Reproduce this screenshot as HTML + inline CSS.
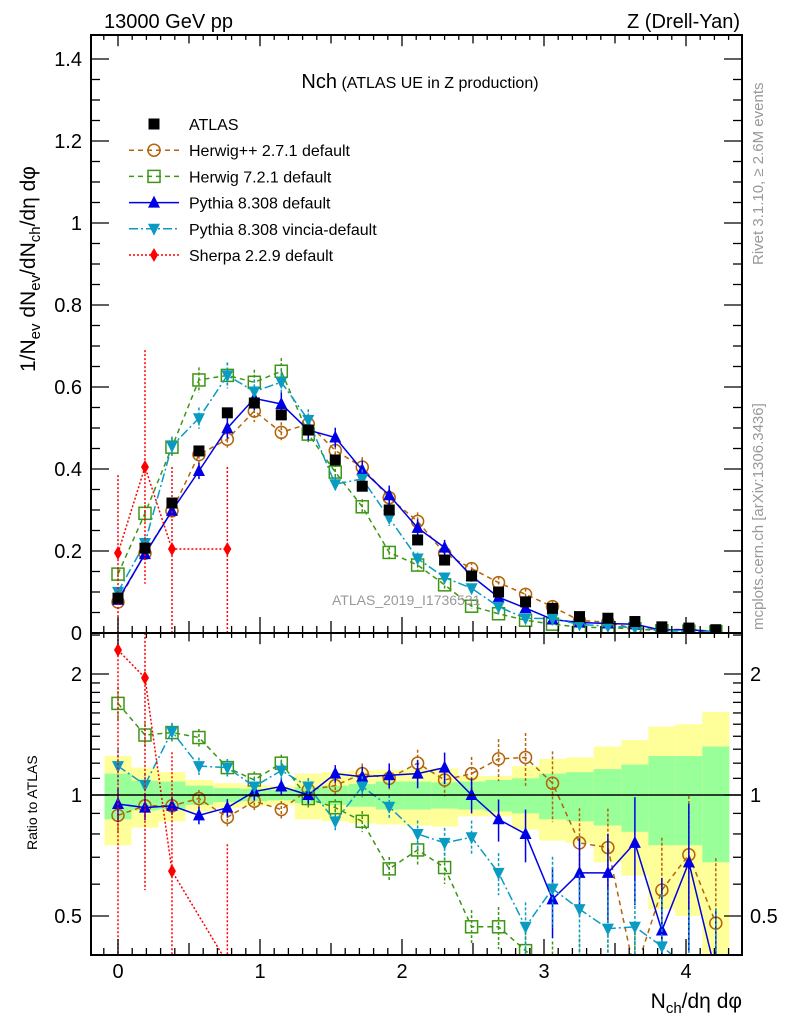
<!DOCTYPE html>
<html><head><meta charset="utf-8"><style>
html,body{margin:0;padding:0;background:#fff;width:786px;height:1024px;overflow:hidden;}
svg{display:block;font-family:"Liberation Sans",sans-serif;}
</style></head><body>
<svg id="chart" width="786" height="1024" viewBox="0 0 786 1024">
<defs>
<clipPath id="cm"><rect x="91" y="35" width="651" height="598"/></clipPath>
<clipPath id="cr"><rect x="91" y="633" width="651" height="322"/></clipPath>
</defs>
<g id="bands" clip-path="url(#cr)"></g>
<g id="series-main" clip-path="url(#cm)"></g>
<g id="series-ratio" clip-path="url(#cr)"></g>
<rect x="91" y="35" width="651" height="598" fill="none" stroke="#000" stroke-width="2"/>
<rect x="91" y="633" width="651" height="322" fill="none" stroke="#000" stroke-width="2"/>
<line x1="91" y1="795" x2="742" y2="795" stroke="#000" stroke-width="1.5"/>
<g id="ticks"></g>
<text x="104" y="28" font-size="20">13000 GeV pp</text>
<text x="740" y="28" font-size="20" text-anchor="end">Z (Drell-Yan)</text>
<text x="420" y="88" text-anchor="middle"><tspan font-size="20">Nch</tspan><tspan font-size="16"> (ATLAS UE in Z production)</tspan></text>
<text x="332" y="605" font-size="14" fill="#999">ATLAS_2019_I1736531</text>
<text transform="translate(763,265) rotate(-90)" font-size="15" fill="#999">Rivet 3.1.10, ≥ 2.6M events</text>
<text transform="translate(763,630) rotate(-90)" font-size="15" fill="#999">mcplots.cern.ch [arXiv:1306.3436]</text>
<text transform="translate(35,372) rotate(-90)" font-size="21">1/N<tspan font-size="15" dy="5">ev</tspan><tspan dy="-5"> dN</tspan><tspan font-size="15" dy="5">ev</tspan><tspan dy="-5">/dN</tspan><tspan font-size="15" dy="5">ch</tspan><tspan dy="-5">/dη dφ</tspan></text>
<text transform="translate(37,850) rotate(-90)" font-size="14">Ratio to ATLAS</text>
<text x="742" y="1008" font-size="21" text-anchor="end">N<tspan font-size="15" dy="5">ch</tspan><tspan dy="-5">/dη dφ</tspan></text>
<g id="legend"></g>
</svg>
<script>
const xVals=[0,0.19,0.38,0.57,0.77,0.96,1.15,1.34,1.53,1.72,1.91,2.11,2.30,2.49,2.68,2.87,3.06,3.25,3.45,3.64,3.83,4.02,4.21];
const atlas=[0.085,0.207,0.317,0.444,0.537,0.561,0.532,0.495,0.422,0.358,0.300,0.227,0.178,0.139,0.100,0.076,0.060,0.040,0.036,0.028,0.015,0.012,0.008];
const bandYellow=[.25,.17,.14,.09,.07,.06,.055,.13,.14,.15,.155,.16,.165,.115,.115,.18,.23,.24,.32,.37,.48,.50,.61];
const bandGreen=[.13,.085,.08,.055,.04,.035,.03,.045,.055,.065,.08,.08,.075,.08,.09,.10,.13,.14,.16,.19,.25,.25,.32];
const ratioHerwigpp=[0.89,0.94,0.94,0.98,0.88,0.965,0.92,1.03,1.055,1.13,1.10,1.2,1.09,1.13,1.23,1.24,1.07,0.76,0.74,0.36,0.58,0.71,0.48];
const ratioHerwig7=[1.69,1.41,1.43,1.39,1.17,1.09,1.2,0.98,0.93,0.86,0.655,0.73,0.66,0.47,0.47,0.41,0.36,0.36,0.36,0.36,0.36,0.36,0.36];
const ratioPythia=[0.95,0.93,0.94,0.89,0.93,1.02,1.05,1.0,1.13,1.11,1.12,1.13,1.17,1.0,0.87,0.80,0.55,0.64,0.64,0.76,0.46,0.68,0.36];
const ratioVincia=[1.18,1.06,1.44,1.18,1.17,1.05,1.15,1.05,0.86,1.05,0.935,0.80,0.76,0.785,0.64,0.47,0.585,0.52,0.465,0.47,0.42,0.37,0.36];
const sherpaX=[0,0.19,0.38,0.77];
const sherpaVal=[0.195,0.405,0.205,0.205];
const sherpaErrLo=[0.195,0.285,0.205,0.205];
const sherpaErrHi=[0.19,0.285,0.2,0.2];
const relErr=[0.1,0.07,0.05,0.05,0.05,0.05,0.05,0.05,0.05,0.06,0.07,0.08,0.09,0.1,0.12,0.15,0.2,0.22,0.25,0.3,0.35,0.4,0.45];
const yTicksMain=[0,0.2,0.4,0.6,0.8,1,1.2,1.4];
const yTickLabelsMain=["0","0.2","0.4","0.6","0.8","1","1.2","1.4"];
const xTicks=[0,1,2,3,4];
const ratioTicks=[0.5,1,2];

const NS="http://www.w3.org/2000/svg";
const sx=x=>118+142*x;
const sy=v=>633-410*v;
const RMIN=0.35;
const ry=r=>795-121*Math.log2(Math.max(r,RMIN));
function mk(tag,attrs,parent){const e=document.createElementNS(NS,tag);for(const k in attrs)e.setAttribute(k,attrs[k]);parent.appendChild(e);return e;}
const gB=document.getElementById('bands'),gT=document.getElementById('ticks'),gM=document.getElementById('series-main'),gR=document.getElementById('series-ratio'),gL=document.getElementById('legend');

for(let i=0;i<xVals.length;i++){
  const x0=i===0?xVals[0]-(xVals[1]-xVals[0])/2:(xVals[i-1]+xVals[i])/2;
  const x1=i===xVals.length-1?xVals[i]+(xVals[i]-xVals[i-1])/2:(xVals[i]+xVals[i+1])/2;
  const yb=mk('rect',{x:sx(x0),y:ry(1+bandYellow[i]),width:sx(x1)-sx(x0),height:ry(1-bandYellow[i])-ry(1+bandYellow[i]),fill:'#ffff9a'},gB);
  
  
  const gb=mk('rect',{x:sx(x0),y:ry(1+bandGreen[i]),width:sx(x1)-sx(x0),height:ry(1-bandGreen[i])-ry(1+bandGreen[i]),fill:'#99ff99'},gB);
  
  
}

for(let t=0;t<=1.45;t+=0.05){const y=sy(t);const maj=Math.abs(t/0.2-Math.round(t/0.2))<1e-6;const L=maj?18:9;
  mk('line',{x1:91,y1:y,x2:91+L,y2:y,stroke:'#000','stroke-width':1.3},gT);mk('line',{x1:742,y1:y,x2:742-L,y2:y,stroke:'#000','stroke-width':1.3},gT);}
yTicksMain.forEach((t,i)=>{const e=mk('text',{x:82,y:sy(t)+7,'font-size':20,'text-anchor':'end'},gT);e.textContent=yTickLabelsMain[i];
  
  });
for(let t=-0.1;t<=4.35;t+=0.1){const x=sx(t);const k=Math.round(t*10);const L=k%10===0?16:(k%5===0?12:7);
  mk('line',{x1:x,y1:633,x2:x,y2:633-L,stroke:'#000','stroke-width':1.3},gT);mk('line',{x1:x,y1:955,x2:x,y2:955-L,stroke:'#000','stroke-width':1.3},gT);
  mk('line',{x1:x,y1:35,x2:x,y2:35+L*0.7,stroke:'#000','stroke-width':1.3},gT);mk('line',{x1:x,y1:633,x2:x,y2:633+L*0.7,stroke:'#000','stroke-width':1.3},gT);}
xTicks.forEach(t=>{const e=mk('text',{x:sx(t),y:978,'font-size':20,'text-anchor':'middle'},gT);e.textContent=String(t);
  
  });
[0.4,0.5,0.6,0.7,0.8,0.9,1,1.1,1.2,1.3,1.4,1.5,1.6,1.7,1.8,1.9,2,2.5].forEach(r=>{const y=ry(r);const maj=ratioTicks.includes(r);const L=maj?18:9;
  if(y<633||y>955)return;mk('line',{x1:91,y1:y,x2:91+L,y2:y,stroke:'#000','stroke-width':1.3},gT);mk('line',{x1:742,y1:y,x2:742-L,y2:y,stroke:'#000','stroke-width':1.3},gT);});
ratioTicks.forEach(r=>{const a=mk('text',{x:82,y:ry(r)+7,'font-size':20,'text-anchor':'end'},gT);a.textContent=String(r);
  
  
  const b=mk('text',{x:750,y:ry(r)+7,'font-size':20},gT);b.textContent=String(r);
  
  });

function marker(type,x,y,color,parent){
  if(type==='sq')return mk('rect',{x:x-5.5,y:y-5.5,width:11,height:11,fill:'#000'},parent);
  if(type==='circ')return mk('circle',{cx:x,cy:y,r:6,fill:'none',stroke:color,'stroke-width':1.5},parent);
  if(type==='osq')return mk('rect',{x:x-6,y:y-6,width:12,height:12,fill:'none',stroke:color,'stroke-width':1.5},parent);
  if(type==='up')return mk('polygon',{points:`${x},${y-7} ${x-6},${y+5} ${x+6},${y+5}`,fill:color},parent);
  if(type==='down')return mk('polygon',{points:`${x},${y+7} ${x-6},${y-5} ${x+6},${y-5}`,fill:color},parent);
  if(type==='dia')return mk('polygon',{points:`${x},${y-7} ${x-4},${y} ${x},${y+7} ${x+4},${y}`,fill:color},parent);
}
const mcs=[
 {name:'herwigpp',ratio:ratioHerwigpp,color:'#b4640a',dash:'5,4',m:'circ'},
 {name:'herwig7',ratio:ratioHerwig7,color:'#3c9614',dash:'5,4',m:'osq'},
 {name:'pythia',ratio:ratioPythia,color:'#0000e6',dash:'',m:'up'},
 {name:'vincia',ratio:ratioVincia,color:'#0a9bc3',dash:'9,3,2,3',m:'down'}
];
mcs.forEach(s=>{
  const vals=s.ratio.map((r,i)=>r*atlas[i]);
  const pm=mk('polyline',{points:vals.map((v,i)=>sx(xVals[i])+','+sy(v)).join(' '),fill:'none',stroke:s.color,'stroke-width':1.5,'stroke-dasharray':s.dash},gM);
  
  
  const pr=mk('polyline',{points:s.ratio.map((r,i)=>sx(xVals[i])+','+ry(r)).join(' '),fill:'none',stroke:s.color,'stroke-width':1.5,'stroke-dasharray':s.dash},gR);
  
  
  vals.forEach((v,i)=>{const x=sx(xVals[i]);const e=v*relErr[i];
    mk('line',{x1:x,y1:sy(v+e),x2:x,y2:sy(v-e),stroke:s.color,'stroke-width':1.5,'stroke-dasharray':s.dash?'3,2':''},gM);
    const p=marker(s.m,x,sy(v),s.color,gM);
    
    
    const r=s.ratio[i],er=r*relErr[i];
    mk('line',{x1:x,y1:ry(r+er),x2:x,y2:ry(r-er),stroke:s.color,'stroke-width':1.5,'stroke-dasharray':s.dash?'3,2':''},gR);
    const q=marker(s.m,x,ry(r),s.color,gR);
    
    
  });
});
const sl=mk('polyline',{points:sherpaVal.map((v,i)=>sx(sherpaX[i])+','+sy(v)).join(' '),fill:'none',stroke:'#ff0000','stroke-width':1.5,'stroke-dasharray':'2,2'},gM);


const sherpaRatio=sherpaVal.map((v,i)=>v/atlas[xVals.indexOf(sherpaX[i])]);
const sr=mk('polyline',{points:sherpaRatio.map((r,i)=>sx(sherpaX[i])+','+ry(r)).join(' '),fill:'none',stroke:'#ff0000','stroke-width':1.5,'stroke-dasharray':'2,2'},gR);


sherpaVal.forEach((v,i)=>{const x=sx(sherpaX[i]);
  mk('line',{x1:x,y1:sy(v+sherpaErrHi[i]),x2:x,y2:sy(v-sherpaErrLo[i]),stroke:'#ff0000','stroke-width':1.5,'stroke-dasharray':'2,2'},gM);
  const p=marker('dia',x,sy(v),'#ff0000',gM);
  
  
  const a=atlas[xVals.indexOf(sherpaX[i])],r=sherpaRatio[i];
  mk('line',{x1:x,y1:ry((v+sherpaErrHi[i])/a),x2:x,y2:ry((v-sherpaErrLo[i])/a),stroke:'#ff0000','stroke-width':1.5,'stroke-dasharray':'2,2'},gR);
  const q=marker('dia',x,ry(r),'#ff0000',gR);
  
  
});
atlas.forEach((v,i)=>{const p=marker('sq',sx(xVals[i]),sy(v),'#000',gM);
  
  });

const leg=[{m:'sq',c:'#000',d:null,l:'ATLAS'},{m:'circ',c:'#b4640a',d:'5,4',l:'Herwig++ 2.7.1 default'},{m:'osq',c:'#3c9614',d:'5,4',l:'Herwig 7.2.1 default'},
 {m:'up',c:'#0000e6',d:'',l:'Pythia 8.308 default'},{m:'down',c:'#0a9bc3',d:'9,3,2,3',l:'Pythia 8.308 vincia-default'},{m:'dia',c:'#ff0000',d:'2,2',l:'Sherpa 2.2.9 default'}];
leg.forEach((e,i)=>{const y=124+i*26.2;
  const g=mk('g',{},gL);
  
  
  if(e.d!==null)mk('line',{x1:129,y1:y,x2:179,y2:y,stroke:e.c,'stroke-width':1.5,'stroke-dasharray':e.d},g);
  marker(e.m,154,y,e.c,g);
  const t=mk('text',{x:189,y:y+6,'font-size':16},g);t.textContent=e.l;});
</script>
</body></html>
